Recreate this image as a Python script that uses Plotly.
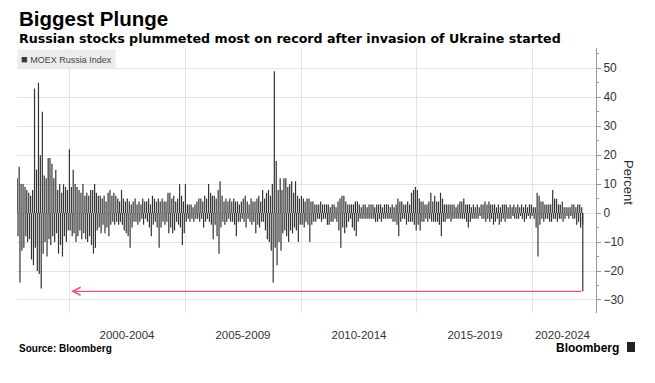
import plotly.graph_objects as go
import pandas as pd

# ---------------- data ----------------
# Monthly extremes of daily % moves of the MOEX Russia Index, Oct 1997 .. Feb 2022
first_month = "1997-10-01"
monthly_high = [
    12, 16, 10,                                   # 1997 Oct-Dec
    10, 9, 8, 7, 6, 8, 43, 15, 45, 20, 35, 13,    # 1998
    12, 19, 19, 17, 12, 15, 8, 10, 7, 10, 9, 8,   # 1999
    22, 9, 15, 10, 9, 8, 7, 10, 6, 7, 6, 8,       # 2000
    8, 10, 7, 6, 6, 5, 6, 4, 7, 8, 6, 7,          # 2001
    6, 5, 4, 8, 5, 4, 5, 4, 3, 4, 5, 3,           # 2002
    4, 3, 5, 4, 4, 5, 3, 6, 5, 4, 5, 4,           # 2003
    5, 4, 4, 7, 7, 5, 6, 4, 5, 10, 6, 4,          # 2004
    10, 3, 3, 3, 2, 3, 4, 5, 5, 4, 6, 5,          # 2005
    10, 7, 6, 6, 5, 8, 11, 6, 4, 5, 4, 5,         # 2006
    4, 5, 4, 4, 3, 4, 5, 6, 4, 3, 5, 4,           # 2007
    4, 5, 6, 4, 8, 5, 7, 8, 6, 10, 49, 18,        # 2008
    8, 12, 8, 12, 12, 9, 10, 11, 7, 11, 6, 5,     # 2009
    6, 5, 4, 5, 5, 4, 4, 3, 3, 3, 4, 3,           # 2010
    3, 3, 3, 2, 3, 3, 2, 4, 5, 6, 6, 4,           # 2011
    3, 3, 3, 3, 4, 4, 3, 2, 3, 3, 2, 3,           # 2012
    3, 3, 2, 3, 3, 3, 2, 3, 3, 3, 2, 3,           # 2013
    2, 3, 5, 4, 4, 3, 3, 4, 3, 7, 8, 9,           # 2014
    8, 5, 4, 4, 3, 3, 4, 7, 4, 6, 4, 4,           # 2015
    7, 5, 3, 3, 3, 3, 3, 3, 2, 3, 4, 4,           # 2016
    5, 3, 3, 3, 2, 3, 2, 3, 2, 3, 3, 4,           # 2017
    3, 4, 3, 3, 3, 2, 3, 2, 3, 3, 3, 2,           # 2018
    3, 2, 3, 2, 3, 2, 3, 2, 3, 2, 3, 3,           # 2019
    2, 2, 7, 6, 4, 4, 3, 3, 3, 3, 8, 5,           # 2020
    5, 3, 3, 4, 2, 2, 2, 2, 3, 3, 2, 3,           # 2021
    3, 2,                                         # 2022 Jan-Feb
]
monthly_low = [
    -8, -24, -13,                                             # 1997 Oct-Dec
    -12, -8, -10, -9, -16, -18, -12, -20, -21, -26, -14, -10, # 1998
    -15, -9, -11, -8, -10, -7, -14, -11, -15, -8, -10, -6,    # 1999
    -6, -8, -7, -10, -8, -6, -9, -7, -9, -10, -8, -11,        # 2000
    -14, -12, -6, -5, -7, -4, -7, -5, -8, -4, -3, -4,         # 2001
    -3, -4, -3, -4, -6, -7, -8, -12, -5, -3, -3, -4,          # 2002
    -3, -2, -4, -2, -3, -5, -8, -4, -3, -5, -12, -5,          # 2003
    -3, -4, -3, -7, -5, -7, -6, -3, -4, -5, -11, -7,          # 2004
    -3, -2, -3, -2, -3, -2, -2, -3, -2, -5, -3, -2,           # 2005
    -3, -4, -9, -4, -8, -14, -5, -3, -4, -3, -2, -3,          # 2006
    -3, -4, -8, -3, -3, -2, -3, -5, -2, -3, -4, -3,           # 2007
    -7, -4, -5, -3, -3, -6, -9, -10, -13, -24, -12, -18,      # 2008
    -10, -13, -7, -6, -8, -10, -6, -7, -5, -6, -10, -4,       # 2009
    -4, -5, -3, -4, -10, -4, -3, -3, -2, -2, -3, -2,          # 2010
    -2, -4, -4, -3, -3, -2, -3, -6, -12, -5, -7, -5,          # 2011
    -3, -2, -5, -6, -8, -3, -2, -2, -2, -2, -2, -2,           # 2012
    -2, -2, -3, -3, -2, -3, -2, -2, -2, -2, -2, -3,           # 2013
    -3, -4, -8, -3, -2, -2, -4, -3, -3, -3, -4, -6,           # 2014
    -4, -6, -3, -3, -2, -3, -2, -3, -3, -3, -3, -4,           # 2015
    -8, -3, -3, -2, -2, -3, -2, -2, -2, -2, -2, -2,           # 2016
    -2, -3, -5, -3, -2, -2, -2, -2, -1, -2, -2, -3,           # 2017
    -2, -3, -2, -4, -3, -2, -4, -3, -2, -3, -2, -2,           # 2018
    -2, -1, -2, -2, -2, -1, -2, -3, -2, -1, -2, -1,           # 2019
    -2, -5, -15, -4, -2, -3, -2, -2, -3, -3, -2, -2,          # 2020
    -3, -2, -2, -3, -2, -1, -2, -1, -2, -2, -4, -3,           # 2021
    -5, -4,                                                   # 2022 Jan-Feb
]
plunge_date = "2022-02-24"
plunge_value = -27
arrow_target_date = "2000-02-01"

period_bounds = ["2000-01-01", "2005-01-01", "2010-01-01", "2015-01-01", "2020-01-01"]
period_labels = ["2000-2004", "2005-2009", "2010-2014", "2015-2019", "2020-2024"]
period_label_at = ["2002-07-02", "2007-07-02", "2012-07-02", "2017-07-02", "2021-04-10"]
y_ticks = [-30, -20, -10, 0, 10, 20, 30, 40, 50]

# ---------------- build series (thin bars drawn as vertical segments from 0) ----------------
months = pd.date_range(first_month, periods=len(monthly_high), freq="MS")
dates, values = [], []
for m, hi, lo in zip(months, monthly_high, monthly_low):
    dates.append(m + pd.Timedelta(days=6))
    values.append(hi)
    dates.append(m + pd.Timedelta(days=19))
    values.append(lo)
dates.append(pd.Timestamp(plunge_date))
values.append(plunge_value)

seg_x, seg_y = [], []
for d, v in zip(dates, values):
    seg_x += [d, d, None]
    seg_y += [0, v, None]

BAR = "#333333"
FONT = "Liberation Sans, Arial, sans-serif"
FONT_SUB = "DejaVu Sans, Verdana, sans-serif"

fig = go.Figure()
fig.add_trace(go.Scatter(
    x=seg_x, y=seg_y, mode="lines",
    line=dict(color=BAR, width=1.2),
    connectgaps=False, hoverinfo="skip",
    name="MOEX Russia Index", showlegend=False,
))

# The page body adds an 8px offset; figure coordinates below use page pixels - 8.
OFF = 8
W, H = 639, 367
ML, MT = 17 - OFF, 48 - OFF
PR, PB = 596 - OFF, 313 - OFF          # plot right / bottom edges in figure pixels
MR, MB = W - PR, H - PB
PW, PH = PR - ML, PB - MT


def px(x):
    return (x - OFF - ML) / PW


def py(y):
    return (PB - (y - OFF)) / PH


fig.update_layout(
    width=W, height=H,
    margin=dict(l=ML, r=MR, t=MT, b=MB, pad=0, autoexpand=False),
    paper_bgcolor="white", plot_bgcolor="white",
    font=dict(family=FONT, color="#333333"),
    xaxis=dict(
        type="date",
        range=["1997-10-04", "2022-09-20"],
        tickmode="array", tickvals=period_label_at, ticktext=period_labels,
        showgrid=False, zeroline=False, showline=False,
        ticks="outside", ticklen=11, tickcolor="rgba(0,0,0,0)",
        tickfont=dict(size=11.5, color="#333333", family=FONT),
        minor=dict(tickmode="array", tickvals=period_bounds, showgrid=True,
                   gridcolor="#e4e4e4", gridwidth=1, ticks=""),
    ),
    yaxis=dict(
        side="right",
        range=[-34.5, 57],
        tickmode="array", tickvals=y_ticks,
        showgrid=True, gridcolor="#e4e4e4", gridwidth=1,
        zeroline=False,
        showline=True, linecolor="#9a9a9a", linewidth=1,
        ticks="outside", ticklen=4, tickcolor="#9a9a9a",
        tickfont=dict(size=12, color="#333333", family=FONT),
        minor=dict(tickmode="array", tickvals=[-25, -15, -5, 5, 15, 25, 35, 45, 55],
                   ticks="outside", ticklen=2, tickcolor="#9a9a9a", showgrid=False),
    ),
)

ann = [
    dict(text="<b>Biggest Plunge</b>", x=px(17), y=py(18), xanchor="left", yanchor="middle",
         font=dict(size=20.5, color="#000000", family=FONT)),
    dict(text="<b>Russian stocks plummeted most on record after invasion of Ukraine started</b>",
         x=px(17), y=py(38.5), xanchor="left", yanchor="middle",
         font=dict(size=12.65, color="#000000", family=FONT_SUB)),
    dict(text="<span style='color:#3a3a3a;font-size:11px'>■</span> MOEX Russia Index",
         x=px(17), y=py(59), xanchor="left", yanchor="middle",
         bgcolor="#ececec", borderpad=3,
         font=dict(size=9, color="#444444", family=FONT)),
    dict(text="Percent", x=px(629), y=py(182), xanchor="center", yanchor="middle",
         textangle=90, font=dict(size=13, color="#333333", family=FONT)),
    dict(text="<b>Source: Bloomberg</b>", x=px(17), y=py(348), xanchor="left", yanchor="middle",
         font=dict(size=10, color="#000000", family=FONT)),
    dict(text="<b>Bloomberg</b>", x=px(621), y=py(347.5), xanchor="right", yanchor="middle",
         font=dict(size=12, color="#000000", family=FONT)),
]
for a in ann:
    a.update(xref="paper", yref="paper", showarrow=False)
    fig.add_annotation(**a)

# arrow from the plunge bar back to early 2000
fig.add_annotation(
    x=arrow_target_date, y=plunge_value, ax=plunge_date, ay=plunge_value,
    xref="x", yref="y", axref="x", ayref="y",
    text="", showarrow=True, arrowhead=5, arrowsize=1.2, arrowwidth=1.3,
    arrowcolor="#e25573", standoff=0, startstandoff=0,
)

# small Bloomberg terminal icon
fig.add_shape(type="rect", xref="paper", yref="paper",
              x0=px(627), x1=px(635), y0=py(352), y1=py(342),
              fillcolor="#222222", line=dict(width=0))

fig.write_html("out.html")
